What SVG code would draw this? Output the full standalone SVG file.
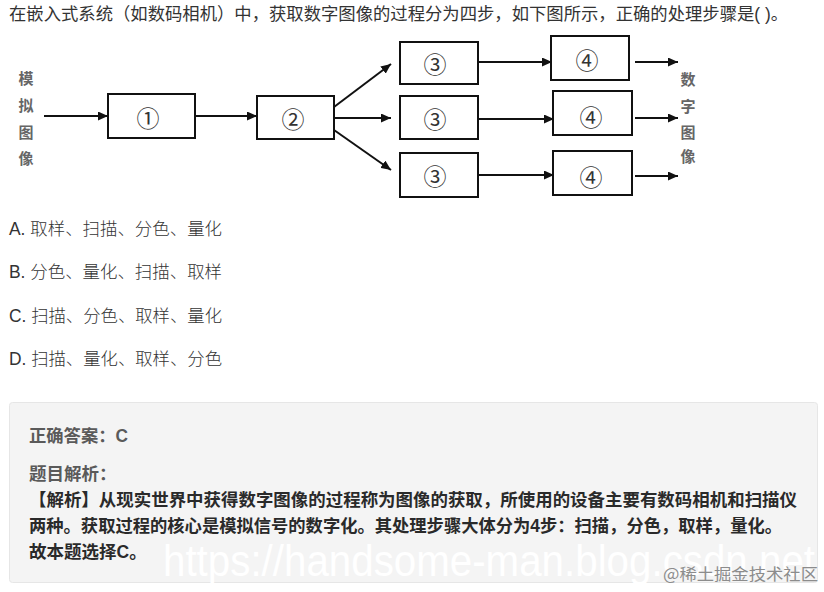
<svg xmlns="http://www.w3.org/2000/svg" width="824" height="592" viewBox="0 0 824 592">
<defs>
<marker id="ah" markerUnits="userSpaceOnUse" markerWidth="11" markerHeight="9" refX="10" refY="4.5" orient="auto">
<path d="M0,0 L10,4.5 L0,9 z" fill="#111"/>
</marker>
</defs>
<style>
.t{font-family:"Liberation Sans","Noto Sans CJK SC",sans-serif;font-size:17.5px;fill:#333}
.opt{font-family:"Liberation Sans","Noto Sans CJK SC",sans-serif;font-size:17.5px;fill:#333;font-weight:300}
.box{fill:#fff;stroke:#111;stroke-width:2}
.num{font-family:"Noto Sans CJK SC",sans-serif;font-size:23px;fill:#333;text-anchor:middle;dominant-baseline:central}
.side{font-family:"Noto Sans CJK SC",sans-serif;font-size:15px;fill:#666;font-weight:bold;text-anchor:middle;dominant-baseline:central}
.con line{stroke:#111;stroke-width:2;marker-end:url(#ah)}
.hd{font-family:"Liberation Sans","Noto Sans CJK SC",sans-serif;font-size:17.5px;fill:#5a5a5a;font-weight:bold}
.ex{font-family:"Liberation Sans","Noto Sans CJK SC",sans-serif;font-size:17.5px;fill:#2a2a2a;font-weight:bold}
</style>
<rect width="824" height="592" fill="#fff"/>
<text class="t" x="9" y="20" textLength="779" lengthAdjust="spacingAndGlyphs">在嵌入式系统（如数码相机）中，获取数字图像的过程分为四步，如下图所示，正确的处理步骤是( )。</text>

<g id="label-in">
<text class="side" x="26" y="77">模</text>
<text class="side" x="26" y="104">拟</text>
<text class="side" x="26" y="131">图</text>
<text class="side" x="26" y="157">像</text>
</g>
<g id="label-out">
<text class="side" x="688" y="78">数</text>
<text class="side" x="688" y="105">字</text>
<text class="side" x="688" y="131">图</text>
<text class="side" x="688" y="155">像</text>
</g>

<g id="n1"><rect class="box" x="108" y="94" width="87" height="44"/><text class="num" x="148" y="117">①</text></g>
<g id="n2"><rect class="box" x="257" y="96" width="77" height="43"/><text class="num" x="293" y="118">②</text></g>
<g id="n3a"><rect class="box" x="400" y="42" width="78" height="42"/><text class="num" x="435" y="63">③</text></g>
<g id="n3b"><rect class="box" x="400" y="96" width="78" height="43"/><text class="num" x="435" y="118">③</text></g>
<g id="n3c"><rect class="box" x="400" y="153" width="78" height="44"/><text class="num" x="435" y="175">③</text></g>
<g id="n4a"><rect class="box" x="551" y="36" width="78" height="44"/><text class="num" x="587" y="59">④</text></g>
<g id="n4b"><rect class="box" x="553" y="91" width="79" height="44"/><text class="num" x="591" y="116">④</text></g>
<g id="n4c"><rect class="box" x="553" y="151" width="79" height="44"/><text class="num" x="591" y="176">④</text></g>

<g id="connectors" class="con">
<line x1="44" y1="116" x2="108" y2="116"/>
<line x1="195" y1="116" x2="257" y2="116"/>
<line x1="334" y1="107" x2="391" y2="64"/>
<line x1="334" y1="118" x2="391" y2="118"/>
<line x1="334" y1="130" x2="391" y2="170"/>
<line x1="478" y1="62" x2="552" y2="62"/>
<line x1="478" y1="119" x2="554" y2="119"/>
<line x1="478" y1="175" x2="554" y2="175"/>
<line x1="635" y1="62" x2="678" y2="62"/>
<line x1="635" y1="118" x2="678" y2="118"/>
<line x1="635" y1="176" x2="678" y2="176"/>
</g>

<text class="opt" x="9" y="235" textLength="213" lengthAdjust="spacingAndGlyphs">A. 取样、扫描、分色、量化</text>
<text class="opt" x="9" y="278" textLength="213" lengthAdjust="spacingAndGlyphs">B. 分色、量化、扫描、取样</text>
<text class="opt" x="9" y="322" textLength="213" lengthAdjust="spacingAndGlyphs">C. 扫描、分色、取样、量化</text>
<text class="opt" x="9" y="365" textLength="213" lengthAdjust="spacingAndGlyphs">D. 扫描、量化、取样、分色</text>

<rect x="9.5" y="402.5" width="808" height="180" rx="3" fill="#f4f4f4" stroke="#e6e6e6"/>
<text class="hd" x="29" y="442" textLength="99" lengthAdjust="spacingAndGlyphs">正确答案：C</text>
<text class="hd" x="29" y="480">题目解析：</text>
<text class="ex" x="29" y="506" textLength="768" lengthAdjust="spacingAndGlyphs">【解析】从现实世界中获得数字图像的过程称为图像的获取，所使用的设备主要有数码相机和扫描仪</text>
<text class="ex" x="29" y="532" textLength="753" lengthAdjust="spacingAndGlyphs">两种。获取过程的核心是模拟信号的数字化。其处理步骤大体分为4步：扫描，分色，取样，量化。</text>
<text class="ex" x="29" y="558">故本题选择C。</text>

<text x="163" y="576" font-family="Liberation Sans, sans-serif" font-size="44" fill="#fff" textLength="652" lengthAdjust="spacingAndGlyphs">https://handsome-man.blog.csdn.net</text>
<text x="663" y="580" font-family="Noto Sans CJK SC, sans-serif" font-size="16" fill="#8c8c8c" textLength="155" lengthAdjust="spacingAndGlyphs">@稀土掘金技术社区</text>
</svg>
